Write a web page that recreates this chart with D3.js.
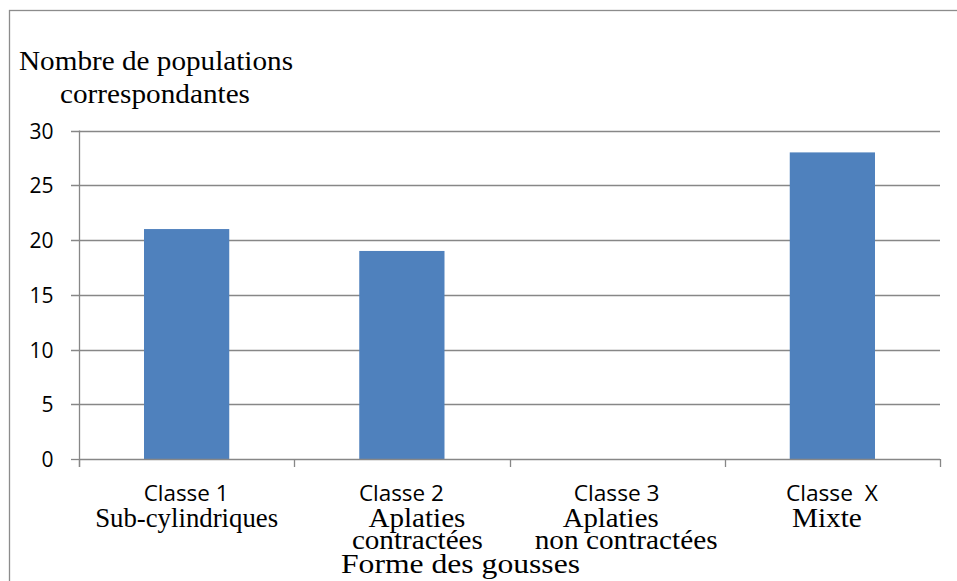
<!DOCTYPE html>
<html>
<head>
<meta charset="utf-8">
<script src="https://cdn.jsdelivr.net/npm/d3@7"></script>
<style>
  html, body { margin: 0; padding: 0; background: #fff; }
  svg { display: block; }
  text { white-space: pre; }
</style>
</head>
<body>
<svg id="chart" width="957" height="581"></svg>
<script>
// ---- data ----
const categories = ["Classe 1", "Classe 2", "Classe 3", "Classe  X"];
const subLabels = [["Sub-cylindriques"], ["Aplaties", "contractées"], ["Aplaties", "non contractées"], ["Mixte"]];
const values = [21, 19, 0, 28];
const yTicks = [0, 5, 10, 15, 20, 25, 30];
const yTitle = ["Nombre de populations", "correspondantes"];
const xTitle = "Forme des gousses";

// ---- layout (style only) ----
const plot = { left: 79, right: 940, top: 130.5, bottom: 459 };
const serif = "'Liberation Serif', 'Times New Roman', serif";
const sans = "'Open Sans', 'Noto Sans', sans-serif";
const barColor = "#4F81BD";
const gridColor = "#878787";

const svg = d3.select("#chart");

// outer frame
svg.append("rect")
  .attr("x", 9.5).attr("y", 10.5)
  .attr("width", 960).attr("height", 600)
  .attr("fill", "#fff").attr("stroke", "#8c8c8c").attr("stroke-width", 1.3);

const x = d3.scaleBand().domain(categories).range([plot.left, plot.right]).padding(0);
const y = d3.scaleLinear().domain([0, 30]).range([plot.bottom, plot.top]);

// gridlines
svg.append("g").selectAll("line").data(yTicks.filter(d => d !== 0)).join("line")
  .attr("x1", plot.left - 8).attr("x2", plot.right)
  .attr("y1", d => Math.round(y(d)) + 0.5).attr("y2", d => Math.round(y(d)) + 0.5)
  .attr("stroke", gridColor).attr("stroke-width", 1.3);

// bars
const barFrac = 0.396;
svg.append("g").selectAll("rect").data(values).join("rect")
  .attr("x", (d, i) => x(categories[i]) + x.bandwidth() * (1 - barFrac) / 2)
  .attr("width", x.bandwidth() * barFrac)
  .attr("y", d => y(d))
  .attr("height", d => y(0) - y(d))
  .attr("fill", barColor);

// y axis
const yAxis = d3.axisLeft(y).tickValues(yTicks).tickSize(0).tickPadding(26);
const gy = svg.append("g").attr("transform", `translate(${plot.left + 0.5},0)`).call(yAxis);
gy.select(".domain").remove();
gy.selectAll("text")
  .attr("font-family", sans).attr("font-size", 21).attr("fill", "#000")
  .attr("dy", "0.36em");
svg.append("line")
  .attr("x1", plot.left + 0.5).attr("x2", plot.left + 0.5)
  .attr("y1", plot.top).attr("y2", plot.bottom + 8)
  .attr("stroke", gridColor).attr("stroke-width", 1.3);
svg.append("line")
  .attr("x1", plot.left - 8).attr("x2", plot.left)
  .attr("y1", Math.round(y(0)) + 0.5).attr("y2", Math.round(y(0)) + 0.5)
  .attr("stroke", gridColor).attr("stroke-width", 1.3);

// x axis
const boundaries = categories.map(c => x(c)).concat([plot.right]);
svg.append("line")
  .attr("x1", plot.left).attr("x2", plot.right)
  .attr("y1", Math.round(y(0)) + 0.5).attr("y2", Math.round(y(0)) + 0.5)
  .attr("stroke", gridColor).attr("stroke-width", 1.3);
svg.append("g").selectAll("line").data(boundaries).join("line")
  .attr("x1", d => Math.round(d) + 0.5).attr("x2", d => Math.round(d) + 0.5)
  .attr("y1", y(0)).attr("y2", y(0) + 8)
  .attr("stroke", gridColor).attr("stroke-width", 1.3);

// category labels
const catLen = [85, 85, 86, 92];
svg.append("g").selectAll("text").data(categories).join("text")
  .attr("x", c => x(c) + x.bandwidth() / 2 - 0.5)
  .attr("y", 501)
  .attr("text-anchor", "middle")
  .attr("font-family", sans).attr("font-size", 22).attr("fill", "#000")
  .attr("textLength", (c, i) => catLen[i]).attr("lengthAdjust", "spacingAndGlyphs")
  .text(c => c);

// sub labels (serif)
const subDx = [[0], [15, 15.5], [-6.5, 9], [-5.5]];
const subLen = [[183], [97, 131], [96, 183], [70]];
const subBase = [527, 548.5];
const subSize = [28, 27];
subLabels.forEach((lines, i) => {
  lines.forEach((t, j) => {
    svg.append("text")
      .attr("x", x(categories[i]) + x.bandwidth() / 2 + subDx[i][j])
      .attr("y", subBase[j])
      .attr("text-anchor", "middle")
      .attr("font-family", serif).attr("font-size", subSize[j]).attr("fill", "#000")
      .attr("textLength", subLen[i][j]).attr("lengthAdjust", "spacingAndGlyphs")
      .text(t);
  });
});

// x title
svg.append("text")
  .attr("x", 460.5).attr("y", 573)
  .attr("text-anchor", "middle")
  .attr("font-family", serif).attr("font-size", 28).attr("fill", "#000")
  .attr("textLength", 239).attr("lengthAdjust", "spacingAndGlyphs")
  .text(xTitle);

// y title
svg.append("text")
  .attr("x", 19).attr("y", 70)
  .attr("font-family", serif).attr("font-size", 28).attr("fill", "#000")
  .attr("textLength", 274).attr("lengthAdjust", "spacingAndGlyphs")
  .text(yTitle[0]);
svg.append("text")
  .attr("x", 60).attr("y", 103)
  .attr("font-family", serif).attr("font-size", 28).attr("fill", "#000")
  .attr("textLength", 190).attr("lengthAdjust", "spacingAndGlyphs")
  .text(yTitle[1]);
</script>
</body>
</html>
